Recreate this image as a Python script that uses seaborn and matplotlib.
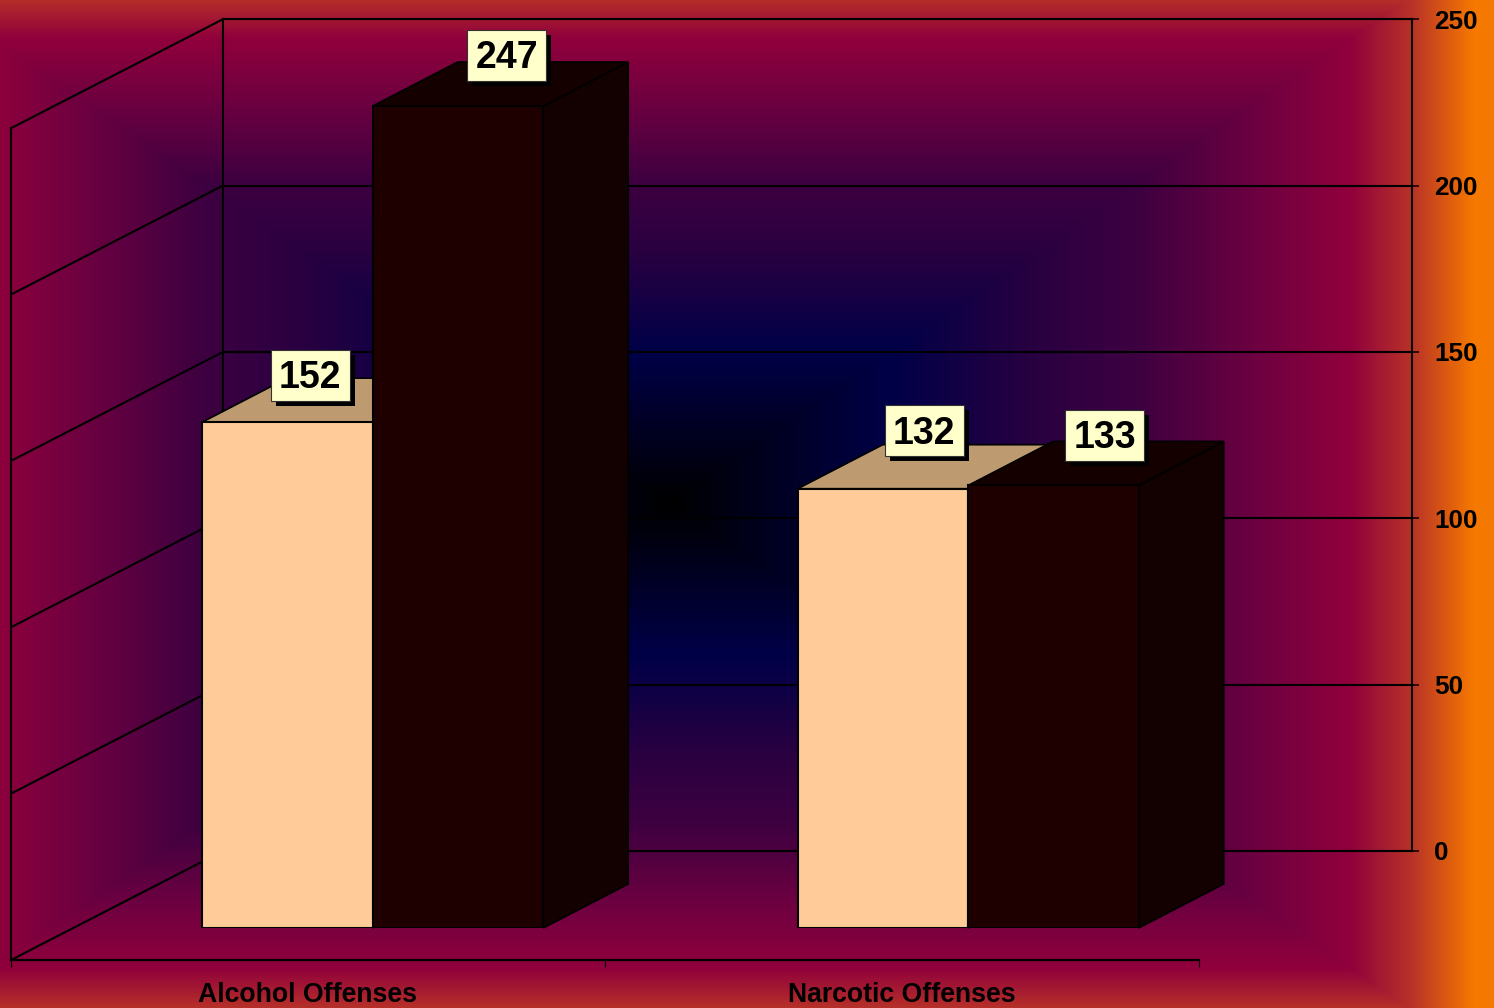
#!/usr/bin/env python3
"""Offense counts as a fake-3D bar chart on a dark gradient background"""

import numpy as np
import pandas as pd
import matplotlib
matplotlib.use('Agg')
import matplotlib.pyplot as plt
import matplotlib.patheffects as pe
from matplotlib.colors import to_rgb
from matplotlib.patches import Polygon, Rectangle
from matplotlib.transforms import IdentityTransform
import seaborn as sns

W, H = 1494, 1008

categories = ['Alcohol Offenses', 'Narcotic Offenses']
series_names = ['Series 1', 'Series 2']
series_1 = [152, 132]
series_2 = [247, 133]
y_ticks = [0, 50, 100, 150, 200, 250]

FRONT = {'Series 1': '#FFCC99', 'Series 2': '#1F0000'}
TOP = {'Series 1': '#BE9A70', 'Series 2': '#150000'}
SIDE = {'Series 1': '#BE9A70', 'Series 2': '#130000'}
# label box offset from the top centre of each bar, in pixels
LABEL_OFFSETS = [(22.5, 47), (49, 50.5), (41, 58), (51, 50)]
LABEL_BOX = (79, 51)
BAR_DEPTH = (85, 44)
WALL_DEPTH = (212, 109)

sns.set_theme(style='white')
plt.rcParams['font.family'] = ['Liberation Sans', 'DejaVu Sans']
plt.rcParams['font.weight'] = 'bold'


def px_axes(fig, left, top, right, bottom, **kw):
    """Add axes placed by pixel edges (y counted from the top)"""
    rect = [left / W, 1 - bottom / H, (right - left) / W, (bottom - top) / H]
    ax = fig.add_axes(rect, **kw)
    ax.patch.set_alpha(0)
    return ax


def draw_background(fig):
    """Rectangular path gradient, black centre to orange edge"""
    stops = [0, .12, .27, .45, .57, .72, .825, .90, .975, 1.01]
    colors = ['#000000', '#000020', '#000048', '#2A0040', '#3E0040',
              '#700040', '#90003C', '#B83228', '#F57800', '#F57800']
    rgb = np.array([to_rgb(c) for c in colors])
    xx, yy = np.meshgrid(np.arange(W) + .5, np.arange(H) + .5)
    t = np.maximum(np.abs(xx - 670) / 824, np.abs(yy - 503) / 563)
    img = np.dstack([np.interp(t, stops, rgb[:, i]) for i in range(3)])
    ax = fig.add_axes([0, 0, 1, 1], zorder=0)
    ax.imshow(img, aspect='auto', interpolation='bilinear')
    ax.axis('off')


def draw_walls(fig):
    """Back wall with the value axis, plus the slanted left wall"""
    ax = px_axes(fig, 223, 19.2, 1412, 851, zorder=1)
    ax.set_xlim(0, 1)
    ax.set_ylim(0, 250)
    ax.set_xticks([])
    ax.set_yticks(y_ticks)
    ax.yaxis.tick_right()
    ax.tick_params(axis='y', length=5, width=1.1, color='black', pad=11,
                   labelsize=18.8, labelcolor='black', right=True)
    ax.grid(axis='y', color='black', lw=1.5)
    for spine in ax.spines.values():
        spine.set_color('black')
        spine.set_linewidth(1.5)
    for label in ax.get_yticklabels():
        label.set_fontweight('bold')

    dx, dy = WALL_DEPTH
    x0, y_low = ax.transData.transform((0, 0))
    for v in y_ticks:
        x0, y0 = ax.transData.transform((0, v))
        ax.plot([x0, x0 - dx], [y0, y0 - dy], color='black', lw=1.5,
                transform=IdentityTransform(), clip_on=False)
    y_high = ax.transData.transform((0, 250))[1]
    ax.plot([x0 - dx, x0 - dx], [y_low - dy, y_high - dy], color='black', lw=1.5,
            transform=IdentityTransform(), clip_on=False)


def draw_floor(fig):
    """Front floor edge carrying the category axis"""
    ax = px_axes(fig, 11, 860, 1199, 960, zorder=1.5)
    ax.set_xlim(-.5, 1.5)
    ax.set_ylim(0, 1)
    sns.despine(ax=ax, left=True)
    ax.spines['bottom'].set_color('black')
    ax.spines['bottom'].set_linewidth(1.6)
    ax.set_yticks([])
    ax.set_xticks([0, 1], categories)
    ax.set_xticks([-.5, .5, 1.5], minor=True)
    ax.tick_params(axis='x', which='major', length=0, pad=15.5, labelsize=19.2,
                   labelcolor='black')
    ax.tick_params(axis='x', which='minor', bottom=True, length=5, width=.8,
                   color='black')
    for label in ax.get_xticklabels():
        label.set_fontweight('bold')


def draw_bars(fig, df):
    """Front faces come from seaborn, the depth faces follow each bar"""
    ax = px_axes(fig, 75, 96, 1266, 928, zorder=2)
    sns.barplot(data=df, x='offense', y='count', hue='series', order=categories,
                hue_order=series_names, palette=FRONT, width=.5726, gap=0,
                edgecolor='black', linewidth=1.5, legend=False, saturation=1,
                ax=ax)
    ax.set_xlim(-.5, 1.5)
    ax.set_ylim(0, 250)
    ax.axis('off')

    bars = []
    for name, container in zip(series_names, ax.containers):
        for bar, value in zip(container, df[df['series'] == name]['count']):
            bars.append((bar, name, value))
    bars.sort(key=lambda b: b[0].get_x())

    dx, dy = BAR_DEPTH
    box_w, box_h = LABEL_BOX
    for i, (bar, name, value) in enumerate(bars):
        x = bar.get_x()
        (x0, y0) = ax.transData.transform((x, 0))
        (x1, y1) = ax.transData.transform((x + bar.get_width(), bar.get_height()))
        side = [(x1, y0), (x1 + dx, y0 + dy), (x1 + dx, y1 + dy), (x1, y1)]
        top = [(x0, y1), (x1, y1), (x1 + dx, y1 + dy), (x0 + dx, y1 + dy)]
        z = 3 + i
        for pts, color in ((side, SIDE[name]), (top, TOP[name])):
            ax.add_patch(Polygon(pts, closed=True, facecolor=color, edgecolor='black',
                                 lw=1.2, transform=IdentityTransform(), clip_on=False,
                                 zorder=z))
        bar.set_zorder(z + .5)

        off_x, off_y = LABEL_OFFSETS[i]
        cx, cy = (x0 + x1) / 2 + off_x, y1 + off_y
        box = Rectangle((cx - box_w / 2, cy - box_h / 2), box_w, box_h,
                        facecolor='#FFFFCC', edgecolor='#333333', lw=.8,
                        transform=IdentityTransform(), clip_on=False, zorder=20)
        box.set_path_effects([
            pe.SimplePatchShadow(offset=(3.6, -3.6), shadow_rgbFace='black', alpha=1),
            pe.Normal(),
        ])
        ax.add_patch(box)
        ax.text(cx, cy - 3, str(value), ha='center', va='center', fontsize=27,
                fontweight='bold', color='black', zorder=21,
                transform=IdentityTransform())


def main():
    df = pd.DataFrame({
        'offense': categories * 2,
        'series': [series_names[0]] * 2 + [series_names[1]] * 2,
        'count': series_1 + series_2,
    })
    fig = plt.figure(figsize=(W / 100, H / 100), dpi=100)
    draw_background(fig)
    draw_walls(fig)
    draw_floor(fig)
    draw_bars(fig, df)
    fig.savefig('out.png', dpi=100)


if __name__ == "__main__":
    main()
